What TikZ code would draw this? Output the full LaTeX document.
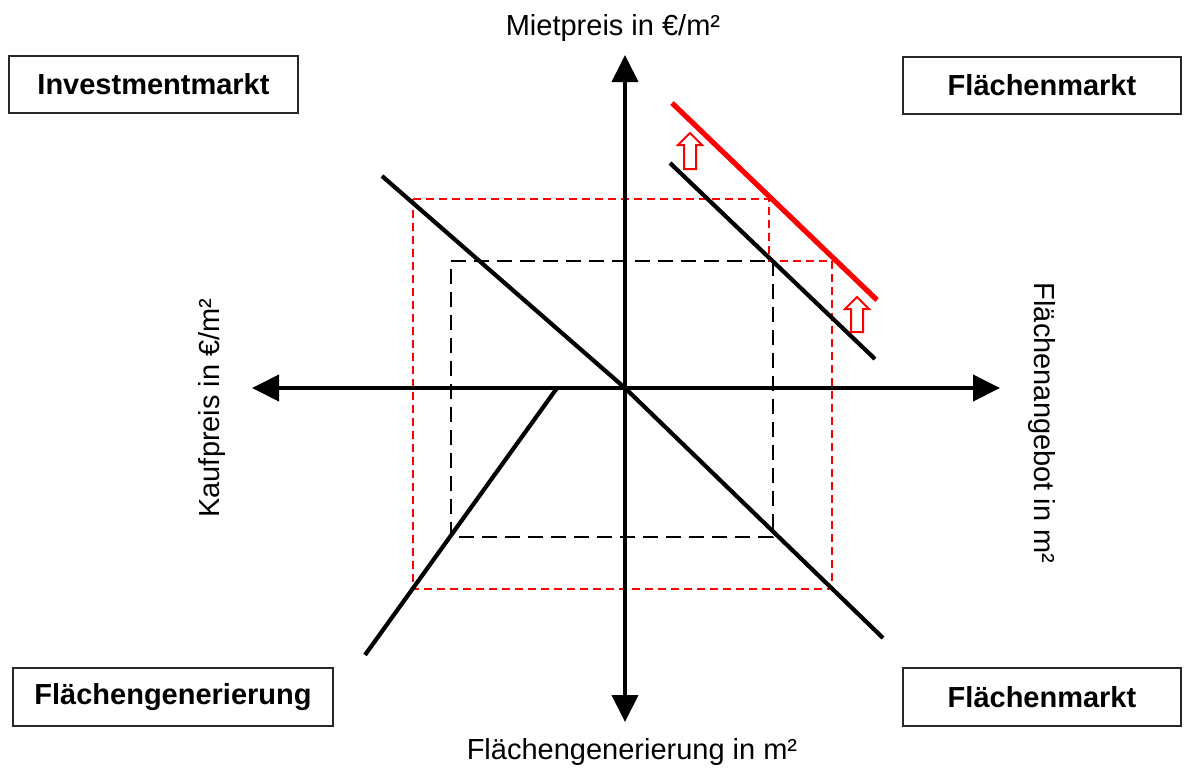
\documentclass[tikz,border=0pt]{standalone}
\usepackage{fontspec}
\setmainfont{Liberation Sans}
\usetikzlibrary{arrows.meta}
\tikzset{
  axis/.style={line width=2pt,-{Triangle[length=13.5pt,width=13pt]}},
  curve/.style={line width=2.1pt},
  redcurve/.style={line width=2.6pt,draw={rgb,255:red,255;green,0;blue,0}},
  blackdash/.style={line width=1.15pt,dash pattern=on 7.5pt off 4pt},
  reddash/.style={line width=1.15pt,draw={rgb,255:red,255;green,0;blue,0},dash pattern=on 4pt off 2.5pt},
  marketbox/.style={draw={rgb,255:red,40;green,40;blue,40},line width=0.7pt,font=\bfseries\fontsize{14.5pt}{17pt}\selectfont,inner sep=0pt},
  axislabel/.style={font=\fontsize{14.5pt}{17pt}\selectfont,inner sep=0pt},
  hollow/.style={draw={rgb,255:red,255;green,0;blue,0},fill=white,line width=1pt,line join=miter}
}
\begin{document}
\begin{tikzpicture}[x=0.5pt,y=-0.5pt]
\useasboundingbox (0,0) rectangle (1190,772);
% axis coordinates
\coordinate (O) at (625,388);
\coordinate (ytop) at (625,55);
\coordinate (ybot) at (625,722);
\coordinate (xl) at (252,388);
\coordinate (xr) at (1000,388);
% dashed rectangles
\coordinate (b1) at (451,261);
\coordinate (b2) at (773,261);
\coordinate (b3) at (773,537);
\coordinate (b4) at (451,537);
\draw[blackdash] (b1) -- (b2) -- (b3) -- (b4) -- cycle;
\coordinate (r1) at (413,199);
\coordinate (r2) at (769,199);
\coordinate (r3) at (769,261);
\coordinate (r4) at (832,261);
\coordinate (r5) at (832,589);
\coordinate (r6) at (413,589);
\draw[reddash] (r1) -- (r2) -- (r3) -- (r4) -- (r5) -- (r6) -- cycle;
% axes
\draw[axis] (O) -- (ytop);
\draw[axis] (O) -- (ybot);
\draw[axis] (O) -- (xl);
\draw[axis] (O) -- (xr);
% curves
\coordinate (d1) at (382,176);
\coordinate (d2) at (883,638);
\draw[curve] (d1) -- (O) -- (d2);
\coordinate (g1) at (557,388);
\coordinate (g2) at (365,655);
\draw[curve] (g1) -- (g2);
\coordinate (s1) at (670,163);
\coordinate (s2) at (875,359);
\draw[curve] (s1) -- (s2);
\coordinate (n1) at (672,103);
\coordinate (n2) at (877,300);
\draw[redcurve] (n1) -- (n2);
% hollow arrows
\draw[hollow] (684,169) -- (684,145) -- (678,145) -- (690,133) -- (702,145) -- (696,145) -- (696,169) -- cycle;
\draw[hollow] (851,332) -- (851,309) -- (845,309) -- (857,297) -- (869,309) -- (863,309) -- (863,332) -- cycle;
% boxes
\node[marketbox,minimum width=144.5pt,minimum height=28.5pt] (inv) at (153.5,84.5) {Investmentmarkt};
\node[marketbox,minimum width=139pt,minimum height=28.5pt] (fm1) at (1042,85.5) {Flächenmarkt};
\node[marketbox,minimum width=160pt,minimum height=29pt] (fg) at (173,697) {Flächengenerierung};
\node[marketbox,minimum width=139pt,minimum height=29pt] (fm2) at (1042,697) {Flächenmarkt};
% axis labels
\node[axislabel] (lmiet) at (613,28) {Mietpreis in €/m²};
\node[axislabel] (lfg) at (632,752) {Flächengenerierung in m²};
\node[axislabel,rotate=90] (lkauf) at (212,408) {Kaufpreis in €/m²};
\node[axislabel,rotate=-90] (lang) at (1042,423) {Flächenangebot in m²};
\end{tikzpicture}
\end{document}
